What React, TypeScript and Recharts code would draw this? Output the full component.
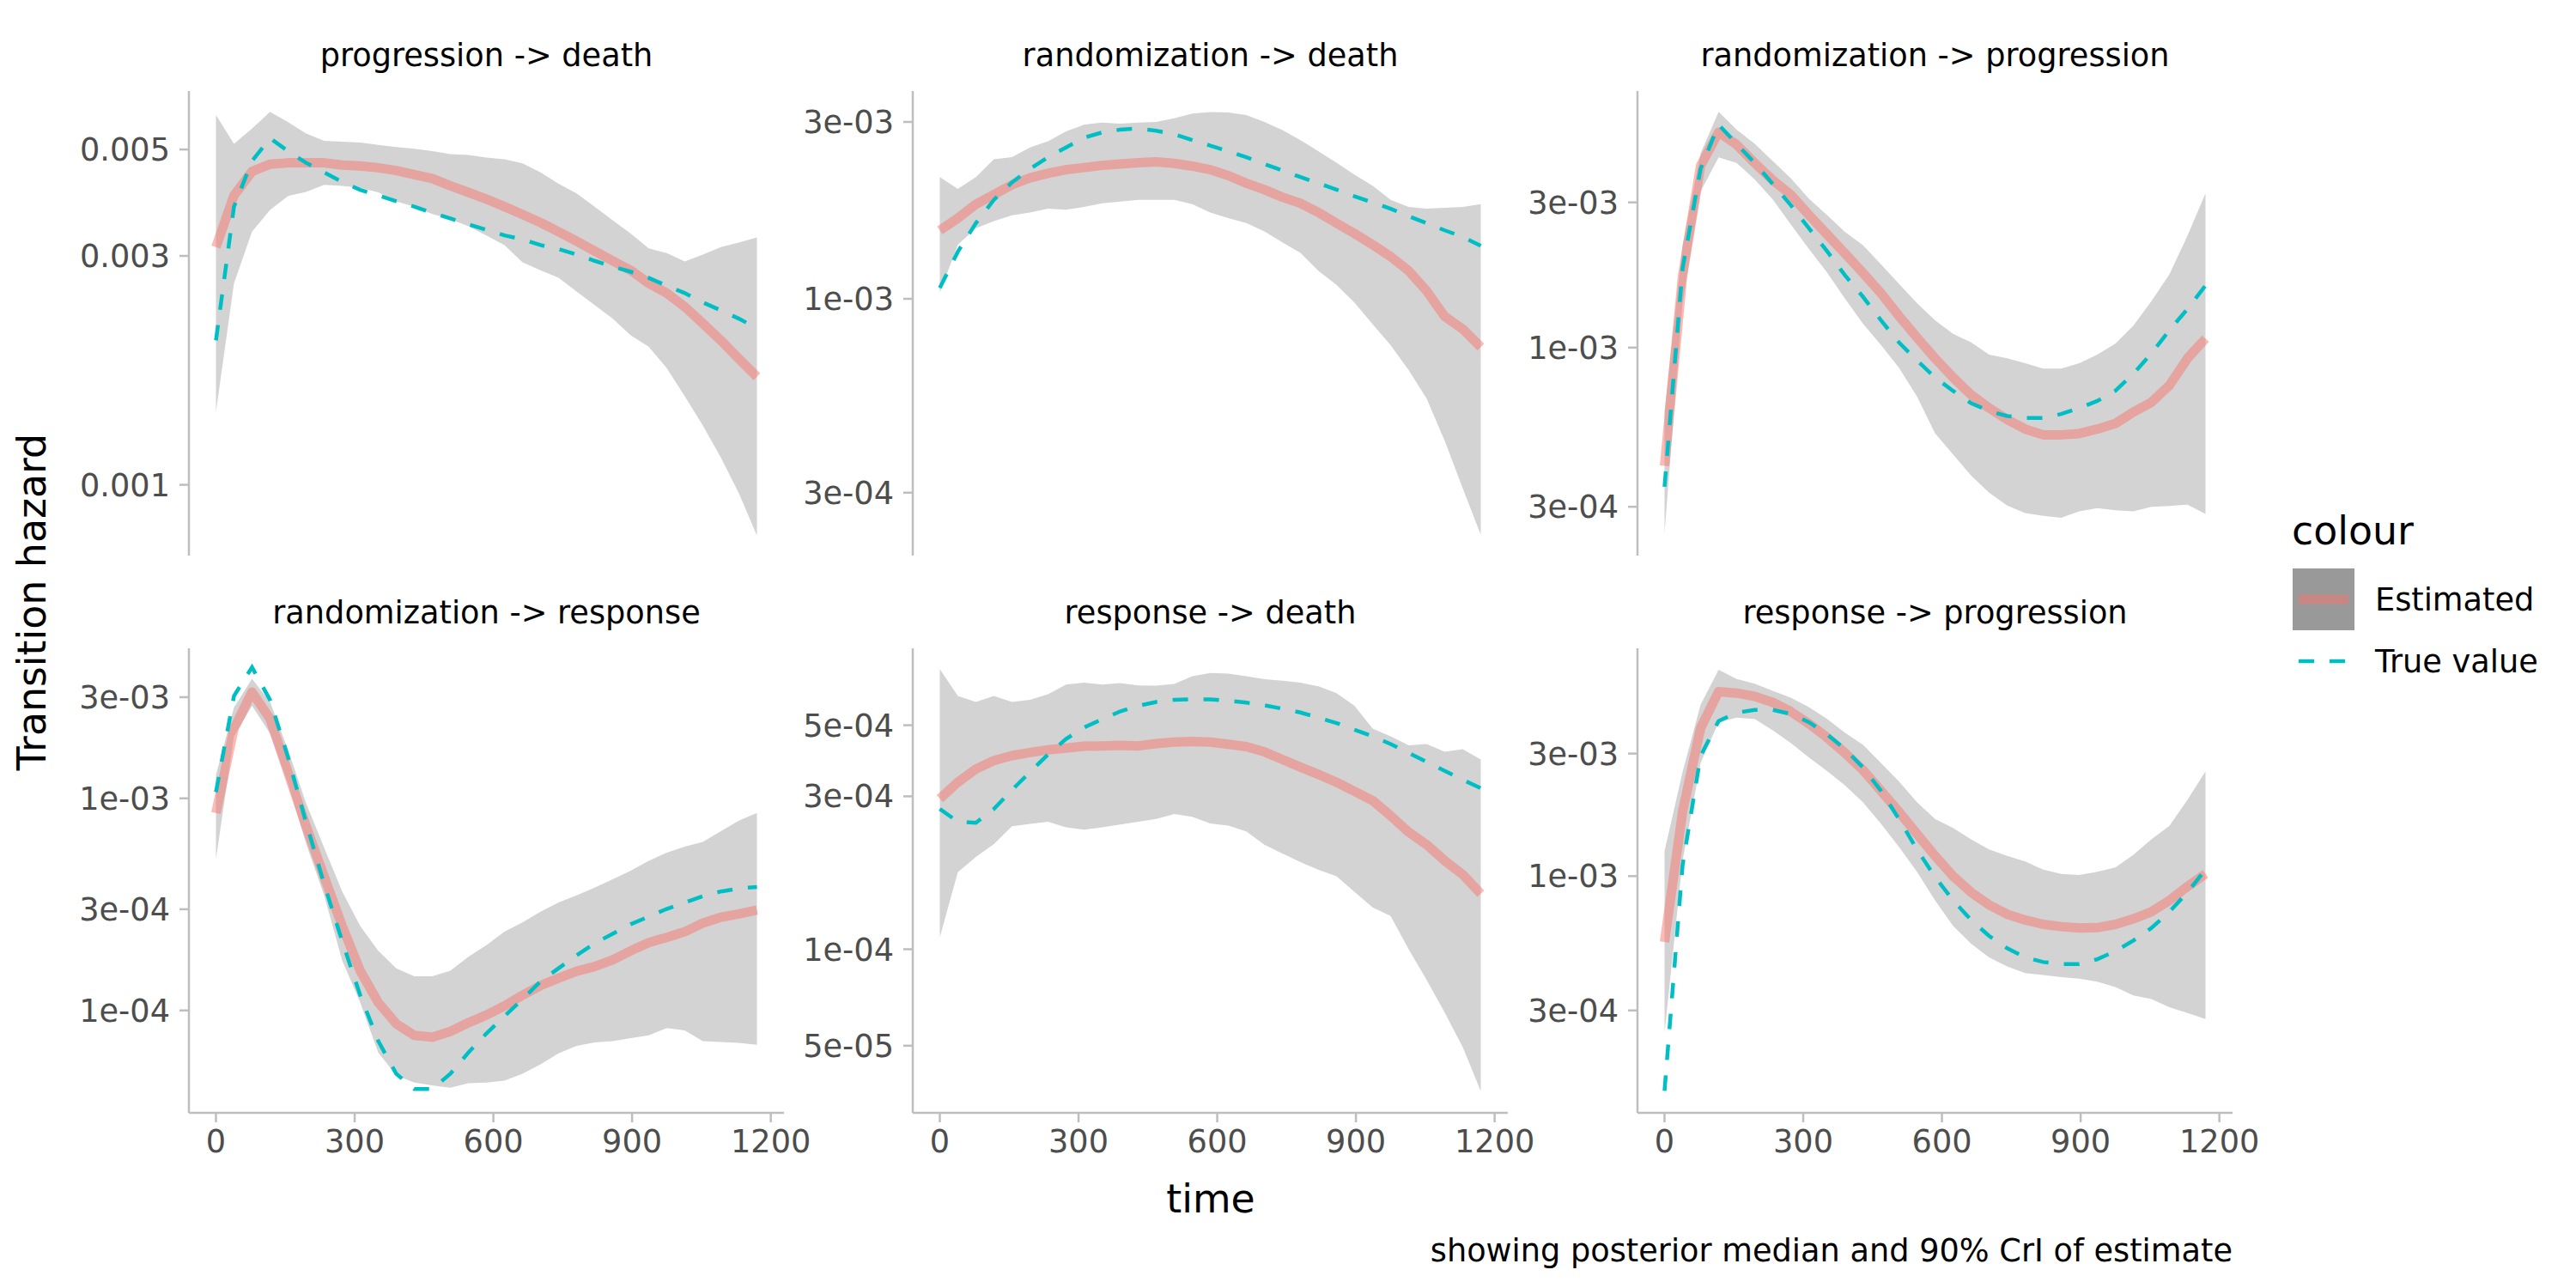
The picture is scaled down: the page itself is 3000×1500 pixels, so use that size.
import { ComposedChart, Area, Line, XAxis, YAxis } from 'recharts'

// time grid shared by every panel
const times = [0, 39, 78, 117, 156, 195, 234, 273, 312, 351, 390, 429, 468, 507, 546, 585, 624, 663, 702, 741, 780, 819, 858, 897, 936, 975, 1014, 1053, 1092, 1131, 1170]
const xTicks = [0, 300, 600, 900, 1200]

// progression -> death
const progDeathMed = [0.00313, 0.00401, 0.0045, 0.00466, 0.00469, 0.00469, 0.00469, 0.00464, 0.00462, 0.00458, 0.00452, 0.00443, 0.00435, 0.0042, 0.00407, 0.00394, 0.0038, 0.00366, 0.00352, 0.00337, 0.00322, 0.00307, 0.00293, 0.0028, 0.00263, 0.00251, 0.00235, 0.00217, 0.002, 0.00183, 0.00168]
const progDeathLo = [0.00142, 0.00263, 0.00337, 0.00374, 0.004, 0.00408, 0.00422, 0.0042, 0.00416, 0.00407, 0.0039, 0.0038, 0.00367, 0.00358, 0.00346, 0.00331, 0.00316, 0.00291, 0.0028, 0.0027, 0.00253, 0.00237, 0.00222, 0.00205, 0.00194, 0.00175, 0.00153, 0.00133, 0.00114, 0.00096, 0.000784]
const progDeathHi = [0.0059, 0.00514, 0.00553, 0.00599, 0.0057, 0.0054, 0.00521, 0.00519, 0.00517, 0.00511, 0.00506, 0.00502, 0.00496, 0.00489, 0.00487, 0.00481, 0.00477, 0.00468, 0.00448, 0.00424, 0.00405, 0.0038, 0.00356, 0.00334, 0.00311, 0.00304, 0.00292, 0.00302, 0.00313, 0.0032, 0.00328]
const progDeathTrue = [0.002, 0.0038, 0.00473, 0.00528, 0.00496, 0.00469, 0.00448, 0.00428, 0.00412, 0.00401, 0.0039, 0.0038, 0.00369, 0.00359, 0.00349, 0.0034, 0.00331, 0.00325, 0.00316, 0.0031, 0.00302, 0.00293, 0.00285, 0.00278, 0.0027, 0.0026, 0.00251, 0.0024, 0.00231, 0.00222, 0.00212]

// randomization -> death
const randDeathMed = [0.00153, 0.00165, 0.0018, 0.00191, 0.00203, 0.00212, 0.00218, 0.00223, 0.00226, 0.00229, 0.00231, 0.00233, 0.00234, 0.00232, 0.00228, 0.00223, 0.00215, 0.00205, 0.00197, 0.00188, 0.00181, 0.00171, 0.0016, 0.0015, 0.0014, 0.0013, 0.00119, 0.00105, 0.000896, 0.000829, 0.000741]
const randDeathLo = [0.00104, 0.0014, 0.00155, 0.00162, 0.00168, 0.00171, 0.00175, 0.00174, 0.00177, 0.00181, 0.00183, 0.00185, 0.00185, 0.00185, 0.0018, 0.00171, 0.00165, 0.0016, 0.00152, 0.00142, 0.00133, 0.00119, 0.00109, 0.000976, 0.000854, 0.00075, 0.000642, 0.000538, 0.000414, 0.000308, 0.000231]
const randDeathHi = [0.00213, 0.00198, 0.00213, 0.00238, 0.00241, 0.00256, 0.00266, 0.00283, 0.00295, 0.00299, 0.00297, 0.00299, 0.003, 0.00307, 0.00316, 0.00319, 0.00318, 0.00313, 0.003, 0.00285, 0.00268, 0.0025, 0.00233, 0.00216, 0.00202, 0.00185, 0.00177, 0.00175, 0.00176, 0.00177, 0.0018]
const randDeathTrue = [0.00107, 0.00134, 0.0016, 0.00185, 0.00206, 0.00224, 0.00241, 0.00256, 0.00272, 0.00281, 0.00286, 0.00288, 0.00284, 0.00278, 0.00268, 0.00259, 0.0025, 0.00241, 0.00231, 0.00222, 0.00213, 0.00205, 0.00197, 0.00189, 0.00182, 0.00175, 0.00167, 0.0016, 0.00153, 0.00147, 0.00139]

// randomization -> progression
const randProgMed = [0.000409, 0.00172, 0.00396, 0.0051, 0.00464, 0.00404, 0.00355, 0.00318, 0.00273, 0.00236, 0.00204, 0.00176, 0.00151, 0.00127, 0.00108, 0.000922, 0.000798, 0.0007, 0.000633, 0.00058, 0.00054, 0.000517, 0.000517, 0.000522, 0.00054, 0.000563, 0.000614, 0.000661, 0.000752, 0.000922, 0.00107]
const randProgLo = [0.000246, 0.0014, 0.00326, 0.00422, 0.00404, 0.00357, 0.00307, 0.00254, 0.00211, 0.00177, 0.00145, 0.0012, 0.00102, 0.000859, 0.000691, 0.000523, 0.000446, 0.00038, 0.000334, 0.000303, 0.000286, 0.00028, 0.000276, 0.00029, 0.000297, 0.000292, 0.00029, 0.0003, 0.000302, 0.000305, 0.000284]
const randProgHi = [0.000622, 0.00217, 0.00435, 0.00595, 0.0052, 0.00467, 0.0041, 0.0036, 0.00309, 0.00273, 0.0024, 0.00217, 0.00188, 0.00162, 0.0014, 0.00123, 0.00111, 0.00104, 0.000949, 0.000922, 0.000889, 0.000853, 0.000853, 0.000889, 0.000949, 0.00103, 0.00118, 0.00142, 0.00174, 0.00233, 0.00321]
const randProgTrue = [0.000349, 0.00182, 0.00387, 0.0054, 0.00467, 0.00404, 0.00345, 0.00294, 0.00247, 0.00208, 0.00173, 0.00147, 0.00123, 0.00104, 0.000908, 0.000798, 0.000721, 0.000657, 0.000619, 0.000596, 0.000587, 0.000587, 0.000605, 0.000633, 0.000668, 0.000721, 0.00082, 0.000957, 0.00114, 0.00134, 0.0016]

// randomization -> response
const randRespMed = [0.000853, 0.00213, 0.00317, 0.00237, 0.00132, 0.000738, 0.000428, 0.00025, 0.000154, 0.000109, 0.0000865, 0.0000763, 0.0000748, 0.0000796, 0.0000875, 0.0000951, 0.000105, 0.000118, 0.000131, 0.000142, 0.000153, 0.000161, 0.000173, 0.000191, 0.000209, 0.000221, 0.000235, 0.000258, 0.000275, 0.000285, 0.000297]
const randRespLo = [0.000518, 0.00196, 0.00273, 0.00202, 0.00117, 0.000612, 0.000349, 0.000172, 0.000109, 0.0000633, 0.0000493, 0.0000457, 0.0000443, 0.0000432, 0.0000454, 0.0000457, 0.0000467, 0.0000503, 0.0000557, 0.0000628, 0.0000681, 0.0000707, 0.0000716, 0.000074, 0.0000763, 0.0000827, 0.0000805, 0.0000716, 0.000071, 0.0000703, 0.0000689]
const randRespHi = [0.00129, 0.00268, 0.00366, 0.00285, 0.00169, 0.000947, 0.000585, 0.000364, 0.00025, 0.000191, 0.000158, 0.000145, 0.000145, 0.000154, 0.000179, 0.000203, 0.000235, 0.00026, 0.000292, 0.000323, 0.000349, 0.000379, 0.000415, 0.000456, 0.000507, 0.000555, 0.000592, 0.000623, 0.0007, 0.000785, 0.000853]
const randRespTrue = [0.00107, 0.00304, 0.00415, 0.00291, 0.00156, 0.000767, 0.000394, 0.000212, 0.000118, 0.0000718, 0.0000503, 0.0000426, 0.0000426, 0.0000503, 0.0000633, 0.0000779, 0.0000939, 0.000113, 0.000137, 0.000158, 0.000182, 0.000207, 0.00023, 0.000255, 0.000277, 0.000301, 0.000323, 0.000346, 0.000364, 0.000376, 0.000382]

// response -> death
const respDeathMed = [0.000295, 0.000332, 0.000365, 0.000388, 0.000402, 0.000411, 0.000419, 0.000424, 0.00043, 0.000431, 0.000433, 0.000431, 0.000438, 0.000443, 0.000445, 0.000443, 0.000436, 0.000429, 0.000413, 0.000391, 0.00037, 0.000351, 0.000332, 0.000311, 0.000291, 0.000261, 0.000232, 0.000212, 0.000189, 0.000171, 0.000149]
const respDeathLo = [0.000109, 0.000174, 0.000194, 0.000213, 0.000242, 0.000246, 0.00025, 0.00024, 0.000236, 0.00024, 0.000245, 0.00025, 0.000255, 0.000264, 0.000259, 0.000247, 0.000243, 0.000233, 0.000212, 0.000199, 0.000187, 0.000177, 0.000169, 0.000151, 0.000135, 0.000127, 0.0001, 0.0000802, 0.0000634, 0.0000495, 0.0000361]
const respDeathHi = [0.000748, 0.000617, 0.000591, 0.000617, 0.000591, 0.0006, 0.000625, 0.00067, 0.000679, 0.00067, 0.000677, 0.000666, 0.000664, 0.000673, 0.000711, 0.000728, 0.000724, 0.000711, 0.000696, 0.000688, 0.000679, 0.000661, 0.00063, 0.000575, 0.000488, 0.000462, 0.000433, 0.000437, 0.000413, 0.000421, 0.000391]
const respDeathTrue = [0.000274, 0.00025, 0.000248, 0.000274, 0.000314, 0.000357, 0.000405, 0.000453, 0.000492, 0.000522, 0.000552, 0.000575, 0.000591, 0.0006, 0.000603, 0.000602, 0.000596, 0.000588, 0.000577, 0.000563, 0.000548, 0.000528, 0.000508, 0.000484, 0.000462, 0.000437, 0.00041, 0.000384, 0.00036, 0.000338, 0.000318]

// response -> progression
const respProgMed = [0.000554, 0.00178, 0.00377, 0.00523, 0.00516, 0.00501, 0.00475, 0.00437, 0.00393, 0.00347, 0.00302, 0.00259, 0.00215, 0.00178, 0.00146, 0.0012, 0.001, 0.000865, 0.000773, 0.000711, 0.000675, 0.000649, 0.000636, 0.000628, 0.00063, 0.000649, 0.000682, 0.000726, 0.000805, 0.000911, 0.00102]
const respProgLo = [0.000245, 0.00115, 0.00276, 0.00398, 0.00414, 0.00409, 0.0037, 0.0033, 0.0029, 0.00257, 0.00226, 0.00194, 0.0016, 0.0013, 0.00104, 0.000805, 0.00064, 0.000546, 0.000483, 0.000445, 0.000419, 0.000412, 0.000404, 0.000399, 0.000388, 0.00037, 0.000343, 0.000332, 0.000309, 0.000293, 0.000278]
const respProgHi = [0.00125, 0.00254, 0.00465, 0.00636, 0.00585, 0.00561, 0.00527, 0.00495, 0.00455, 0.0041, 0.00362, 0.00325, 0.00276, 0.00234, 0.00194, 0.00167, 0.00154, 0.00139, 0.00127, 0.0012, 0.00114, 0.00106, 0.00102, 0.00101, 0.00104, 0.00108, 0.00121, 0.00139, 0.00157, 0.00198, 0.00256]
const respProgTrue = [0.000146, 0.0011, 0.00294, 0.00402, 0.00433, 0.00444, 0.00444, 0.00428, 0.00398, 0.00357, 0.00313, 0.00265, 0.00215, 0.00167, 0.00127, 0.000994, 0.000805, 0.000675, 0.000585, 0.000524, 0.000483, 0.000463, 0.000455, 0.000455, 0.000475, 0.00051, 0.000561, 0.000628, 0.000726, 0.000865, 0.00106]

const FONT = '"DejaVu Sans", sans-serif'
const AXIS_GREY = '#BEBEBE'
const PLOT_W = 693
const PLOT_H = 541
const Y_W = 200
const SMALL = 36.7 // 8.8pt text
const LARGE = 45.8 // 11pt text

const sci = (v: number) => {
  const [m, e] = v.toExponential(0).split('e')
  const n = parseInt(e, 10)
  return `${m}e${n < 0 ? '-' : '+'}${String(Math.abs(n)).padStart(2, '0')}`
}
const dec = (v: number) => v.toFixed(3)

const rowsOf = (lo: number[], hi: number[], med: number[], tru: number[]) =>
  times.map((t, i) => ({ t, band: [lo[i], hi[i]], med: med[i], tru: tru[i] }))

const panels = [
  { title: 'progression -> death', left: 220, top: 106, bottom: false, rows: rowsOf(progDeathLo, progDeathHi, progDeathMed, progDeathTrue), domain: [0.000712, 0.00662], ticks: [0.001, 0.003, 0.005], fmt: dec },
  { title: 'randomization -> death', left: 1063, top: 106, bottom: false, rows: rowsOf(randDeathLo, randDeathHi, randDeathMed, randDeathTrue), domain: [0.000203, 0.003635], ticks: [0.0003, 0.001, 0.003], fmt: sci },
  { title: 'randomization -> progression', left: 1907, top: 106, bottom: false, rows: rowsOf(randProgLo, randProgHi, randProgMed, randProgTrue), domain: [0.0002074, 0.006966], ticks: [0.0003, 0.001, 0.003], fmt: sci },
  { title: 'randomization -> response', left: 220, top: 755, bottom: true, rows: rowsOf(randRespLo, randRespHi, randRespMed, randRespTrue), domain: [0.0000329, 0.0051], ticks: [0.0001, 0.0003, 0.001, 0.003], fmt: sci },
  { title: 'response -> death', left: 1063, top: 755, bottom: true, rows: rowsOf(respDeathLo, respDeathHi, respDeathMed, respDeathTrue), domain: [0.00003087, 0.000869], ticks: [0.00005, 0.0001, 0.0003, 0.0005], fmt: sci },
  { title: 'response -> progression', left: 1907, top: 755, bottom: true, rows: rowsOf(respProgLo, respProgHi, respProgMed, respProgTrue), domain: [0.0001198, 0.00771], ticks: [0.0003, 0.001, 0.003], fmt: sci },
]

function Panel({ p }: { p: (typeof panels)[number] }) {
  const xh = p.bottom ? 80 : 0
  return (
    <div style={{ position: 'absolute', left: p.left - Y_W, top: p.top }}>
      <ComposedChart
        width={Y_W + PLOT_W + 60}
        height={PLOT_H + xh}
        data={p.rows}
        margin={{ top: 0, right: 60, bottom: 0, left: 0 }}
      >
        <XAxis
          dataKey="t"
          type="number"
          domain={[-58.5, 1228.5]}
          ticks={xTicks}
          interval={0}
          allowDataOverflow
          hide={!p.bottom}
          height={80}
          tickSize={11}
          tickMargin={9}
          axisLine={{ stroke: AXIS_GREY, strokeWidth: 2.5 }}
          tickLine={{ stroke: AXIS_GREY, strokeWidth: 2.5 }}
          tick={{ fill: '#4D4D4D', fontSize: SMALL, fontFamily: FONT }}
        />
        <YAxis
          type="number"
          scale="log"
          domain={p.domain}
          allowDataOverflow
          ticks={p.ticks}
          interval={0}
          tickFormatter={p.fmt}
          width={Y_W}
          tickSize={11}
          tickMargin={11}
          axisLine={{ stroke: AXIS_GREY, strokeWidth: 2.5 }}
          tickLine={{ stroke: AXIS_GREY, strokeWidth: 2.5 }}
          tick={{ fill: '#4D4D4D', fontSize: SMALL, fontFamily: FONT }}
        />
        <Area type="linear" dataKey="band" stroke="none" fill="#D3D3D3" fillOpacity={1} isAnimationActive={false} />
        <Line type="linear" dataKey="med" stroke="#F8766D" strokeOpacity={0.5} strokeWidth={11} strokeLinejoin="round" dot={false} activeDot={false} isAnimationActive={false} />
        <Line type="linear" dataKey="tru" stroke="#00BFC4" strokeWidth={4.5} strokeDasharray="18 18" dot={false} activeDot={false} isAnimationActive={false} />
      </ComposedChart>
    </div>
  )
}

export default function App() {
  return (
    <div style={{ position: 'absolute', left: 0, top: 0, width: 3000, height: 1500, background: '#fff', fontFamily: FONT }}>
      {panels.map((p) => (
        <Panel key={p.title} p={p} />
      ))}
      {/* titles, axis labels, legend and caption */}
      <svg width={3000} height={1500} style={{ position: 'absolute', left: 0, top: 0, pointerEvents: 'none' }} fontFamily={FONT}>
        {panels.map((p) => (
          <text key={p.title} x={p.left + PLOT_W / 2} y={p.top - 29} textAnchor="middle" fontSize={SMALL} fill="#000">
            {p.title}
          </text>
        ))}
        <text x={53} y={701} transform="rotate(-90 53 701)" textAnchor="middle" fontSize={LARGE} fill="#000">
          Transition hazard
        </text>
        <text x={1410} y={1412} textAnchor="middle" fontSize={LARGE} fill="#000">
          time
        </text>
        <text x={2600} y={1469} textAnchor="end" fontSize={SMALL} fill="#000">
          showing posterior median and 90% CrI of estimate
        </text>
        <text x={2669} y={634} fontSize={LARGE} fill="#000">
          colour
        </text>
        <rect x={2670} y={662} width={72} height={72} fill="#999999" />
        <line x1={2677} x2={2735} y1={698} y2={698} stroke="#F8766D" strokeOpacity={0.5} strokeWidth={11} />
        <line x1={2677} x2={2735} y1={770} y2={770} stroke="#00BFC4" strokeWidth={4.5} strokeDasharray="18 18" />
        <text x={2766} y={711} fontSize={SMALL} fill="#000">
          Estimated
        </text>
        <text x={2766} y={783} fontSize={SMALL} fill="#000">
          True value
        </text>
      </svg>
    </div>
  )
}
